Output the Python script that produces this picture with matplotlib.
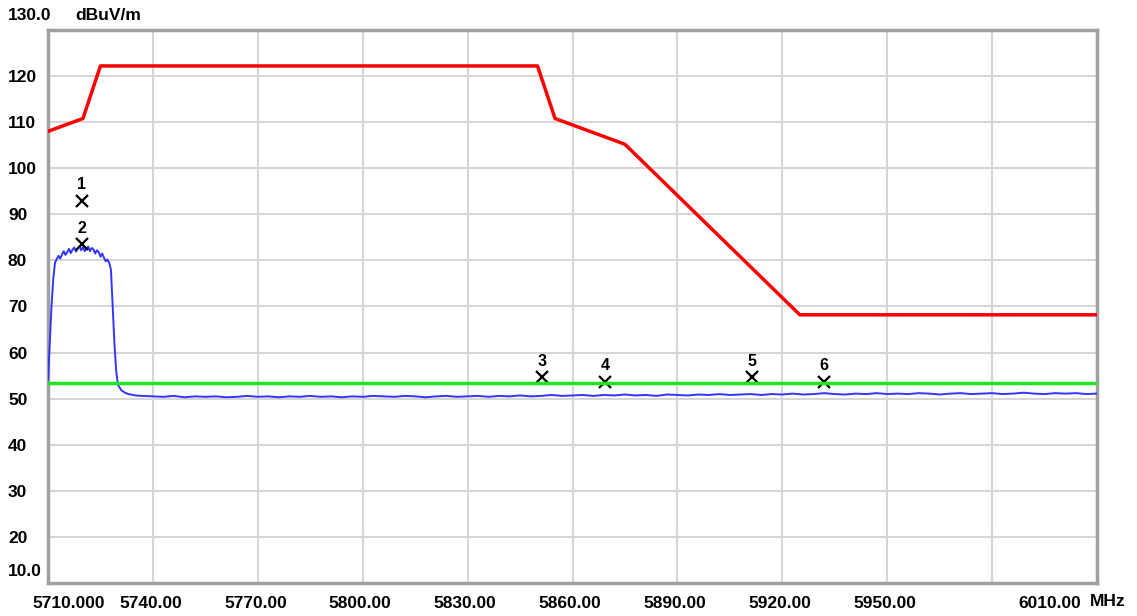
import numpy as np
import matplotlib
matplotlib.use("Agg")
import matplotlib.pyplot as plt
from matplotlib.transforms import ScaledTranslation

plt.rcParams['font.family'] = ['Liberation Sans', 'DejaVu Sans']

# limit line (red)
limit_mhz = [5710, 5720, 5725, 5850, 5855, 5875, 5925, 6010]
limit_db = [108.0, 110.8, 122.2, 122.2, 110.8, 105.2, 68.2, 68.2]

# average limit (green)
avg_limit_db = 53.5

# measured trace: in-band burst
burst_mhz = [5710.0, 5710.5, 5711.0, 5711.5, 5712.0, 5712.5, 5713.0, 5713.5,
             5714.0, 5714.5, 5715.0, 5715.5, 5716.0, 5716.5, 5717.0, 5717.5,
             5718.0, 5718.5, 5719.0, 5719.5, 5720.0, 5720.5, 5721.0, 5721.5,
             5722.0, 5722.5, 5723.0, 5723.5, 5724.0, 5724.5, 5725.0, 5725.5,
             5726.0, 5726.5, 5727.0, 5727.5, 5728.0, 5728.5, 5729.0, 5729.5,
             5730.0, 5731.0, 5732.0, 5733.0, 5735.0, 5737.0]
burst_db = [54.0, 62.0, 70.0, 76.0, 79.5, 80.3, 81.0, 80.4,
            81.3, 82.0, 81.2, 81.8, 82.5, 81.6, 82.3, 82.8,
            81.9, 82.6, 83.1, 82.2, 82.9, 82.0, 82.6, 83.0,
            82.0, 82.7, 82.4, 81.5, 82.2, 81.8, 80.8, 81.5,
            80.6, 79.8, 80.2, 79.5, 78.0, 70.0, 62.0, 56.0,
            53.0, 51.8, 51.3, 51.0, 50.7, 50.6]

# measured trace: noise floor every 3 MHz from 5740 to 6010
floor_start, floor_step = 5740, 3
floor_db = [
    50.5, 50.4, 50.6, 50.3, 50.5, 50.4, 50.5, 50.3, 50.4, 50.6,
    50.4, 50.5, 50.3, 50.5, 50.4, 50.6, 50.4, 50.5, 50.3, 50.5,
    50.4, 50.6, 50.5, 50.4, 50.6, 50.5, 50.3, 50.5, 50.6, 50.4,
    50.5, 50.6, 50.4, 50.6, 50.5, 50.7, 50.5, 50.6, 50.8, 50.6,
    50.7, 50.8, 50.6, 50.8, 50.7, 50.9, 50.7, 50.8, 50.6, 50.9,
    50.8, 50.7, 50.9, 50.8, 51.0, 50.8, 50.9, 51.0, 50.8, 51.0,
    50.9, 51.1, 50.9, 51.0, 51.2, 51.0, 50.9, 51.1, 51.0, 51.2,
    51.0, 51.1, 51.0, 51.2, 51.1, 50.9, 51.1, 51.2, 51.0, 51.1,
    51.2, 51.0, 51.1, 51.3, 51.1, 51.0, 51.2, 51.1, 51.2, 51.0,
    51.1]

# markers
marker_ids = ['1', '2', '3', '4', '5', '6']
marker_mhz = [5719.7, 5719.7, 5851.3, 5869.4, 5911.2, 5932.0]
marker_db = [93.0, 83.5, 54.6, 53.7, 54.6, 53.7]

xtick_vals = [5710, 5740, 5770, 5800, 5830, 5860, 5890, 5920, 5950, 5980, 6010]
xtick_labels = ['5710.000', '5740.00', '5770.00', '5800.00', '5830.00', '5860.00',
                '5890.00', '5920.00', '5950.00', '', '6010.00']
ytick_vals = [20, 30, 40, 50, 60, 70, 80, 90, 100, 110, 120]

floor_mhz = floor_start + floor_step * np.arange(len(floor_db))
trace_mhz = np.concatenate([burst_mhz, floor_mhz])
trace_db = np.concatenate([burst_db, floor_db])

W, H = 1137, 616
fig = plt.figure(figsize=(W / 100, H / 100), dpi=100)
ax = fig.add_axes([48 / W, 1 - 583 / H, (1097 - 48) / W, (583 - 30) / H])

ax.set_xlim(5710, 6010)
ax.set_ylim(10, 130)

ax.plot(trace_mhz, trace_db, color='#3434ff', lw=1.4, zorder=3)
ax.plot(limit_mhz, limit_db, color='#ff0000', lw=2.5, zorder=4)
ax.axhline(avg_limit_db, color='#1ee61e', lw=2.5, zorder=5)

ax.plot(marker_mhz, marker_db, ls='none', marker='x', color='black',
        ms=8, mew=1.6, zorder=4.5)
for mid, mx, my in zip(marker_ids, marker_mhz, marker_db):
    ax.annotate(mid, (mx, my), xytext=(0, 6), textcoords='offset points',
                ha='center', va='bottom', fontsize=11.5, fontweight='bold')

ax.set_xticks(xtick_vals)
ax.set_xticklabels(xtick_labels)
ax.set_yticks(ytick_vals)
ax.set_yticklabels([str(v) for v in ytick_vals])
ax.grid(True, color='#d6d6d6', lw=1.5)
ax.set_axisbelow(True)

ax.tick_params(axis='both', length=0, labelsize=12.5)
ax.tick_params(axis='y', pad=40 * 0.72)
ax.tick_params(axis='x', pad=9)
for lab in ax.get_yticklabels():
    lab.set_horizontalalignment('left')
    lab.set_fontweight('bold')
for lab in ax.get_xticklabels():
    lab.set_fontweight('bold')
    lab.set_transform(lab.get_transform() + ScaledTranslation(-2.5 / 100, 0, fig.dpi_scale_trans))
xl = ax.get_xticklabels()
xl[0].set_horizontalalignment('left')
xl[0].set_transform(xl[0].get_transform() + ScaledTranslation(-13.5 / 100, 0, fig.dpi_scale_trans))
xl[-1].set_horizontalalignment('right')
xl[-1].set_transform(xl[-1].get_transform() + ScaledTranslation(-13.5 / 100, 0, fig.dpi_scale_trans))

for s in ax.spines.values():
    s.set_color('#a0a0a0')
    s.set_linewidth(2.5)

fig.text(8 / W, 1 - 15 / H, '130.0', ha='left', va='center', fontsize=12.5, fontweight='bold')
fig.text(75 / W, 1 - 15 / H, 'dBuV/m', ha='left', va='center', fontsize=12.5, fontweight='bold')
fig.text(8 / W, 1 - 572 / H, '10.0', ha='left', va='center', fontsize=12.5, fontweight='bold')
fig.text(1090 / W, 1 - 602 / H, 'MHz', ha='left', va='center', fontsize=12.5, fontweight='bold')

fig.savefig('out.png', dpi=100)
